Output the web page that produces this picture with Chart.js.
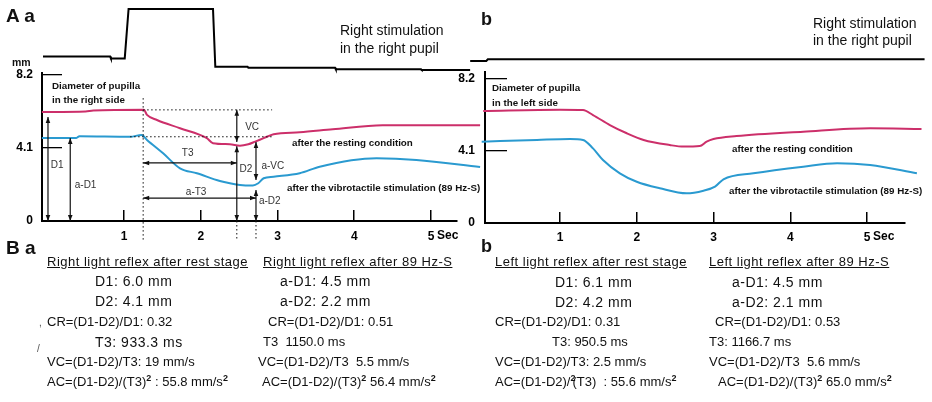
<!DOCTYPE html>
<html>
<head>
<meta charset="utf-8">
<title>Pupil light reflex</title>
<script src="https://cdn.jsdelivr.net/npm/chart.js@4.4.1/dist/chart.umd.min.js"></script>
<style>
  body { margin: 0; background: #fff; }
  #fig { position: relative; width: 932px; height: 402px; overflow: hidden; font-family: "Liberation Sans", Arial, sans-serif; color: #111; }
  #fig canvas { position: absolute; }
  .t { position: absolute; white-space: pre; line-height: 16px; transform: translateY(-50%); font-size: 13px; }
  .hd { text-decoration: underline; letter-spacing: 0.5px; }
  .dv { font-size: 14px; letter-spacing: 0.5px; }
  .tag { font-weight: bold; }
  .note { font-size: 9.8px; font-weight: bold; }
  .stim { font-size: 14px; }
  .sp { font-size: 9px; font-weight: bold; position: relative; top: -5px; }
  .junk { font-size: 10px; color: #555; }
</style>
</head>
<body>
<div id="fig">
  <canvas id="stimA" width="490" height="80" style="left:0;top:0"></canvas>
  <canvas id="pupilA" width="490" height="185" style="left:0;top:60px"></canvas>
  <canvas id="stimB" width="492" height="80" style="left:440px;top:0"></canvas>
  <canvas id="pupilB" width="492" height="185" style="left:440px;top:60px"></canvas>

  <div class="t tag" style="left:6px;top:16px;font-size:19px">A a</div>
  <div class="t tag" style="left:481px;top:19px;font-size:18px">b</div>
  <div class="t tag" style="left:12px;top:62px;font-size:10.5px">mm</div>

  <div class="t stim" style="left:340px;top:30px">Right stimulation</div>
  <div class="t stim" style="left:340px;top:48px">in the right pupil</div>
  <div class="t stim" style="left:813px;top:23px">Right stimulation</div>
  <div class="t stim" style="left:813px;top:40px">in the right pupil</div>

  <div class="t note" style="left:52px;top:86px">Diameter of pupilla</div>
  <div class="t note" style="left:52px;top:100px">in the right side</div>
  <div class="t note" style="left:292px;top:143px">after the resting condition</div>
  <div class="t note" style="left:287px;top:188px">after the vibrotactile stimulation (89 Hz-S)</div>
  <div class="t note" style="left:492px;top:88px">Diameter of pupilla</div>
  <div class="t note" style="left:492px;top:103px">in the left side</div>
  <div class="t note" style="left:732px;top:149px">after the resting condition</div>
  <div class="t note" style="left:729px;top:191px">after the vibrotactile stimulation (89 Hz-S)</div>

  <div class="t tag" style="left:6px;top:248px;font-size:19px">B a</div>
  <div class="t hd" style="left:47px;top:262px">Right light reflex after rest stage</div>
  <div class="t hd" style="left:263px;top:262px">Right light reflex after 89 Hz-S</div>
  <div class="t dv" style="left:95px;top:281px">D1: 6.0 mm</div>
  <div class="t dv" style="left:95px;top:301px">D2: 4.1 mm</div>
  <div class="t" style="left:47px;top:322px">CR=(D1-D2)/D1: 0.32</div>
  <div class="t dv" style="left:95px;top:342px">T3: 933.3 ms</div>
  <div class="t" style="left:47px;top:362px">VC=(D1-D2)/T3: 19 mm/s</div>
  <div class="t" style="left:47px;top:382px">AC=(D1-D2)/(T3)<span class="sp">2</span> : 55.8 mm/s<span class="sp">2</span></div>
  <div class="t dv" style="left:280px;top:281px">a-D1: 4.5 mm</div>
  <div class="t dv" style="left:280px;top:301px">a-D2: 2.2 mm</div>
  <div class="t" style="left:268px;top:322px">CR=(D1-D2)/D1: 0.51</div>
  <div class="t" style="left:263px;top:342px">T3  1150.0 ms</div>
  <div class="t" style="left:258px;top:362px">VC=(D1-D2)/T3  5.5 mm/s</div>
  <div class="t" style="left:262px;top:382px">AC=(D1-D2)/(T3)<span class="sp">2</span> 56.4 mm/s<span class="sp">2</span></div>
  <div class="t junk" style="left:39px;top:323px">,</div>
  <div class="t junk" style="left:37px;top:349px">/</div>

  <div class="t tag" style="left:481px;top:246px;font-size:18px">b</div>
  <div class="t hd" style="left:495px;top:262px">Left light reflex after rest stage</div>
  <div class="t hd" style="left:709px;top:262px">Left light reflex after 89 Hz-S</div>
  <div class="t dv" style="left:555px;top:282px">D1: 6.1 mm</div>
  <div class="t dv" style="left:555px;top:302px">D2: 4.2 mm</div>
  <div class="t" style="left:495px;top:322px">CR=(D1-D2)/D1: 0.31</div>
  <div class="t" style="left:552px;top:342px">T3: 950.5 ms</div>
  <div class="t" style="left:495px;top:362px">VC=(D1-D2)/T3: 2.5 mm/s</div>
  <div class="t" style="left:495px;top:382px">AC=(D1-D2)/<span class="sp" style="margin-right:-3px">2</span>(T3)  : 55.6 mm/s<span class="sp">2</span></div>
  <div class="t dv" style="left:732px;top:282px">a-D1: 4.5 mm</div>
  <div class="t dv" style="left:732px;top:302px">a-D2: 2.1 mm</div>
  <div class="t" style="left:715px;top:322px">CR=(D1-D2)/D1: 0.53</div>
  <div class="t" style="left:709px;top:342px">T3: 1166.7 ms</div>
  <div class="t" style="left:709px;top:362px">VC=(D1-D2)/T3  5.6 mm/s</div>
  <div class="t" style="left:718px;top:382px">AC=(D1-D2)/(T3)<span class="sp">2</span> 65.0 mm/s<span class="sp">2</span></div>
</div>

<script>
const FONT = '"Liberation Sans", Arial, sans-serif';
const PINK = "#cc2f6a";
const BLUE = "#2a9ad0";

// axis ticks
const X_TICKS = [1, 2, 3, 4, 5];
const Y_TICKS = [0, 4.1, 8.2];

// stimulus trace (relative level, 1 = light on)
const stimTimeA = [-0.055, 0.82, 0.83, 1.01, 1.06, 2.16, 2.19, 2.61, 2.62, 3.75, 3.76, 4.87, 4.88, 5.51];
const stimLevelA = [0.22, 0.22, 0.19, 0.19, 1.0, 1.0, 0.054, 0.054, 0.038, 0.038, 0.012, 0.012, 0, 0];
const stimTimeB = [-0.17, 0.04, 0.06, 5.75];
const stimLevelB = [0.148, 0.148, 0.176, 0.176];

// a: right pupil diameter (mm)
const restTimeA = [-0.07, 0.5, 0.6, 1.26, 1.30, 1.43, 1.73, 2.08, 2.16, 2.38, 2.51, 2.62, 2.71, 2.82, 2.95, 3.29, 3.72, 4.37, 5.64];
const restA = [6.12, 6.15, 6.2, 6.24, 5.96, 5.67, 5.21, 4.65, 4.37, 4.31, 4.23, 4.31, 4.46, 4.65, 4.87, 4.98, 5.15, 5.38, 5.38];
const vibTimeA = [-0.07, 0.38, 0.42, 1.08, 1.23, 1.30, 1.51, 1.73, 1.95, 2.25, 2.38, 2.51, 2.68, 2.75, 2.82, 2.95, 3.29, 3.55, 4.29, 4.81, 5.64];
const vibA = [4.66, 4.66, 4.76, 4.73, 4.83, 4.55, 3.80, 2.96, 2.68, 2.25, 2.12, 2.02, 1.99, 2.12, 2.40, 2.49, 2.68, 3.05, 3.52, 3.43, 3.03];

// b: left pupil diameter (mm)
const restTimeB = [0.0, 1.0, 1.30, 1.43, 1.65, 1.87, 2.09, 2.43, 2.61, 2.82, 2.91, 3.0, 3.30, 4.17, 5.04, 5.71];
const restB = [6.38, 6.45, 6.43, 6.15, 5.58, 5.11, 4.73, 4.44, 4.35, 4.38, 4.63, 4.78, 4.95, 5.2, 5.39, 5.35];
const vibTimeB = [-0.02, 0.70, 1.13, 1.30, 1.43, 1.56, 1.78, 2.0, 2.30, 2.65, 2.87, 3.02, 3.13, 3.52, 4.17, 4.61, 5.04, 5.65];
const vibB = [4.63, 4.73, 4.78, 4.73, 4.25, 3.59, 2.83, 2.35, 1.98, 1.69, 1.84, 2.07, 2.49, 2.83, 3.21, 3.40, 3.30, 2.83];

// measurement guides drawn on panel a (time s, diameter mm)
const dottedA = [[1.25, 6.9, 1.25, -1.07], [1.25, 6.24, 2.93, 6.24], [1.08, 4.73, 2.93, 4.73], [2.47, 0, 2.47, -1.07], [2.72, 0, 2.72, -1.07]];
const arrowsA = [[0.01, 0, 0.01, 5.84], [0.30, 0, 0.30, 4.66], [2.47, 6.24, 2.47, 4.44], [2.47, 4.2, 2.47, 0],
  [2.72, 4.44, 2.72, 2.3], [2.72, 1.74, 2.72, 0], [1.25, 3.26, 2.47, 3.26], [1.25, 1.29, 2.72, 1.29]];
const guideNamesA = [["D1", 0.13, 3.15], ["a-D1", 0.5, 2.02], ["VC", 2.67, 5.28], ["T3", 1.83, 3.82],
  ["D2", 2.59, 2.92], ["a-VC", 2.94, 3.09], ["a-T3", 1.94, 1.63], ["a-D2", 2.9, 1.12]];

const pairs = (xs, ys) => xs.map((x, i) => ({ x: x, y: ys[i] }));

function arrowHead(ctx, x, y, fx, fy) {
  const a = Math.atan2(y - fy, x - fx), L = 6, W = 2.3;
  ctx.beginPath();
  ctx.moveTo(x, y);
  ctx.lineTo(x - L * Math.cos(a) + W * Math.sin(a), y - L * Math.sin(a) - W * Math.cos(a));
  ctx.lineTo(x - L * Math.cos(a) - W * Math.sin(a), y - L * Math.sin(a) + W * Math.cos(a));
  ctx.closePath();
  ctx.fill();
}

// extra drawing: guides, arrows and the "Sec" unit after the last tick
const guides = {
  id: "guides",
  afterDraw(chart, args, opts) {
    const { ctx } = chart;
    const xs = chart.scales.x, ys = chart.scales.y;
    const px = t => xs.getPixelForValue(t), py = v => ys.getPixelForValue(v);
    ctx.save();
    ctx.strokeStyle = "#111";
    ctx.fillStyle = "#111";
    ctx.lineWidth = 1;
    ctx.setLineDash([1.5, 2.5]);
    (opts.dotted || []).forEach(([t1, v1, t2, v2]) => {
      ctx.beginPath(); ctx.moveTo(px(t1), py(v1)); ctx.lineTo(px(t2), py(v2)); ctx.stroke();
    });
    ctx.setLineDash([]);
    ctx.lineWidth = 1.2;
    (opts.arrows || []).forEach(([t1, v1, t2, v2]) => {
      const x1 = px(t1), y1 = py(v1), x2 = px(t2), y2 = py(v2);
      ctx.beginPath(); ctx.moveTo(x1, y1); ctx.lineTo(x2, y2); ctx.stroke();
      arrowHead(ctx, x2, y2, x1, y1);
      arrowHead(ctx, x1, y1, x2, y2);
    });
    ctx.fillStyle = "#333";
    ctx.font = "10px " + FONT;
    ctx.textAlign = "center";
    ctx.textBaseline = "middle";
    (opts.names || []).forEach(([s, t, v]) => ctx.fillText(s, px(t), py(v)));
    ctx.fillStyle = "#000";
    ctx.font = "bold 12px " + FONT;
    ctx.textAlign = "left";
    ctx.fillText("Sec", px(X_TICKS[X_TICKS.length - 1]) + 6, xs.top + opts.secY);
    ctx.restore();
  }
};

function stimChart(id, times, levels, o) {
  return new Chart(document.getElementById(id), {
    type: "line",
    data: { datasets: [{ data: pairs(times, levels), borderColor: "#000", borderWidth: 2, pointRadius: 0, tension: 0, clip: false }] },
    options: {
      responsive: false, animation: false, devicePixelRatio: 1, events: [],
      layout: { padding: o.pad },
      plugins: { legend: { display: false }, tooltip: { enabled: false } },
      scales: {
        x: { type: "linear", min: o.xMin, max: o.xMax, display: false },
        y: { type: "linear", min: 0, max: 1, display: false }
      }
    }
  });
}

function pupilChart(id, rest, vib, o) {
  const line = (d, c) => ({ data: d, borderColor: c, borderWidth: 2, pointRadius: 0, cubicInterpolationMode: "monotone", clip: false });
  return new Chart(document.getElementById(id), {
    type: "line",
    data: { datasets: [line(rest, PINK), line(vib, BLUE)] },
    options: {
      responsive: false, animation: false, devicePixelRatio: 1, events: [],
      layout: { padding: { top: o.padTop, right: o.padRight, left: 0, bottom: 0 } },
      plugins: {
        legend: { display: false }, tooltip: { enabled: false },
        guides: { dotted: o.dotted, arrows: o.arrows, names: o.names, secY: o.secY }
      },
      scales: {
        x: {
          type: "linear", min: o.xMin, max: o.xMax,
          afterBuildTicks: s => { s.ticks = X_TICKS.map(v => ({ value: v })); },
          afterFit: s => { s.height = o.xH; s.paddingLeft = 0; s.paddingRight = 0; },
          border: { color: "#000", width: 2 },
          grid: { drawOnChartArea: false, tickLength: -11, color: "#000", lineWidth: 1.5 },
          ticks: { padding: o.xPad, color: "#000", maxRotation: 0, autoSkip: false,
            font: { family: FONT, size: 12, weight: "bold" }, callback: v => String(v) }
        },
        y: {
          type: "linear", min: 0, max: o.yMax,
          afterBuildTicks: s => { s.ticks = Y_TICKS.map(v => ({ value: v })); },
          afterFit: s => { s.width = o.yW; s.paddingTop = 0; s.paddingBottom = 0; },
          border: { color: "#000", width: 2 },
          grid: { drawOnChartArea: false, tickLength: o.yTick, color: "#000", lineWidth: 1.3 },
          ticks: { padding: o.yPad, color: "#000",
            font: { family: FONT, size: 12, weight: "bold" }, callback: v => v === 0 ? "0" : v.toFixed(1) }
        }
      }
    },
    plugins: [guides]
  });
}

stimChart("stimA", stimTimeA, stimLevelA, { xMin: -0.068, xMax: 5.339, pad: { left: 42, right: 33, top: 9, bottom: 10 } });
stimChart("stimB", stimTimeB, stimLevelB, { xMin: 0.023, xMax: 5.495, pad: { left: 45, right: 27, top: 9, bottom: 10 } });

pupilChart("pupilA", pairs(restTimeA, restA), pairs(vibTimeA, vibA), {
  xMin: -0.068, xMax: 5.339, yMax: 8.31, padTop: 13, padRight: 33, yW: 42, xH: 24,
  xPad: 19, yPad: 29, yTick: -20, secY: 15,
  dotted: dottedA, arrows: arrowsA, names: guideNamesA
});
pupilChart("pupilB", pairs(restTimeB, restB), pairs(vibTimeB, vibB), {
  xMin: 0.023, xMax: 5.495, yMax: 8.6, padTop: 12, padRight: 27, yW: 45, xH: 22,
  xPad: 18, yPad: 32, yTick: -22, secY: 14
});
</script>
</body>
</html>
